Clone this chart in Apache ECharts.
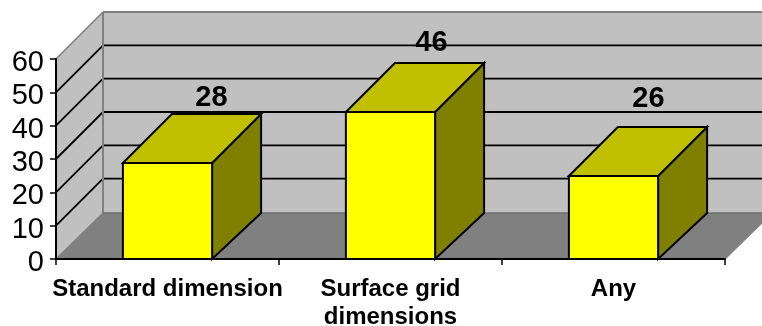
<!DOCTYPE html>
<html>
<head>
<meta charset="utf-8">
<style>html,body{margin:0;padding:0;background:#fff}#c{width:762px;height:326px}</style>
<script src="https://cdn.jsdelivr.net/npm/echarts@6/dist/echarts.min.js"></script>
</head>
<body>
<div id="c"></div>
<script>
// Data
var categories = ['Standard dimension', 'Surface grid\ndimensions', 'Any'];
var printedValues = [28, 46, 26];          // the numbers printed above the bars
var barHeights = [28.8, 44.1, 24.9];       // heights the bars actually reach on the axis
var yTicks = [0, 10, 20, 30, 40, 50, 60];

// 3D look (styling only)
var DEPTH_X = 47, DEPTH_Y = 47, FLOOR_DY = 46, BAR_DX = 49, BAR_TOP_DY = 49, BAR_BASE_DY = 46;
var BAR_RATIO = 0.4;
var LABEL_NUDGE = [[44, -65], [41, -69], [35, -77]];
var LINE = '#000', WALL = '#c0c0c0', FLOOR = '#808080', EDGE = '#808080';

function poly(points, fill, stroke, lw) {
  return {type: 'polygon', shape: {points: points},
    style: {fill: fill, stroke: stroke || null, lineWidth: lw || 0, lineJoin: 'miter'}};
}
function seg(a, b, stroke, lw) {
  return {type: 'line', shape: {x1: a[0], y1: a[1], x2: b[0], y2: b[1]},
    style: {stroke: stroke, lineWidth: lw}};
}

function renderWalls(params, api) {
  var band = api.size([1, 0])[0];
  var o = api.coord([0, 0]);
  var x0 = o[0] - band / 2, y0 = o[1];
  var x1 = api.coord([categories.length - 1, 0])[0] + band / 2;
  var yTop = api.coord([0, 60])[1];
  var kids = [];
  // back wall
  kids.push(poly([[x0 + DEPTH_X, yTop - DEPTH_Y], [x1 + DEPTH_X, yTop - DEPTH_Y],
                  [x1 + DEPTH_X, y0 - FLOOR_DY], [x0 + DEPTH_X, y0 - FLOOR_DY]], WALL));
  // left wall
  kids.push(poly([[x0, y0], [x0, yTop], [x0 + DEPTH_X, yTop - DEPTH_Y], [x0 + DEPTH_X, y0 - FLOOR_DY]], WALL));
  // floor
  kids.push(poly([[x0, y0], [x0 + DEPTH_X, y0 - FLOOR_DY], [x1 + DEPTH_X, y0 - FLOOR_DY], [x1, y0]], FLOOR));
  // gridlines
  yTicks.forEach(function (t) {
    if (t === 0 || t === 60) return;
    var y = api.coord([0, t])[1];
    kids.push(seg([x0, y], [x0 + DEPTH_X, y - DEPTH_Y], LINE, 1.8));
    kids.push(seg([x0 + DEPTH_X, y - DEPTH_Y], [x1 + DEPTH_X, y - DEPTH_Y], LINE, 1.8));
  });
  // wall edges
  kids.push(seg([x0, yTop], [x0 + DEPTH_X, yTop - DEPTH_Y], EDGE, 1.6));
  kids.push(seg([x0 + DEPTH_X, yTop - DEPTH_Y], [x1 + DEPTH_X, yTop - DEPTH_Y], EDGE, 2));
  kids.push(seg([x0 + DEPTH_X, yTop - DEPTH_Y], [x0 + DEPTH_X, y0 - FLOOR_DY], EDGE, 2));
  kids.push(seg([x0, y0], [x0 + DEPTH_X, y0 - FLOOR_DY], EDGE, 1.2));
  kids.push(seg([x0 + DEPTH_X, y0 - FLOOR_DY], [x1 + DEPTH_X, y0 - FLOOR_DY], '#6e6e6e', 1.6));
  kids.push(seg([x1, y0], [x1 + DEPTH_X, y0 - FLOOR_DY], EDGE, 1.2));
  return {type: 'group', children: kids};
}

function renderBar(params, api) {
  var i = api.value(0), v = api.value(1);
  var band = api.size([1, 0])[0];
  var w = band * BAR_RATIO;
  var top = api.coord([i, v]), base = api.coord([i, 0]);
  var l = top[0] - w / 2, r = top[0] + w / 2, yt = top[1], yb = base[1];
  var S = 2;
  return {type: 'group', children: [
    poly([[r, yt], [r + BAR_DX, yt - BAR_TOP_DY], [r + BAR_DX, yb - BAR_BASE_DY], [r, yb]], '#808000', LINE, S),
    poly([[l, yt], [l + BAR_DX, yt - BAR_TOP_DY], [r + BAR_DX, yt - BAR_TOP_DY], [r, yt]], '#c0c000', LINE, S),
    poly([[l, yt], [r, yt], [r, yb], [l, yb]], '#ffff00', LINE, S),
    {type: 'text', style: {
      text: String(printedValues[i]),
      x: top[0] + LABEL_NUDGE[i][0], y: yt + LABEL_NUDGE[i][1],
      textAlign: 'center', textVerticalAlign: 'middle',
      font: 'bold 29px "Liberation Sans", Arial, sans-serif', fill: '#000'
    }}
  ]};
}

var chart = echarts.init(document.getElementById('c'));
chart.setOption({
  animation: false,
  backgroundColor: '#fff',
  grid: {left: 56, right: 37, top: 59, bottom: 67, outerBoundsMode: 'none'},
  xAxis: {
    type: 'category', data: categories, z: 5,
    axisLine: {show: true, lineStyle: {color: '#000', width: 2}},
    axisTick: {show: true, length: 6, lineStyle: {color: '#000', width: 1.5}},
    axisLabel: {interval: 0, color: '#000', margin: 16, lineHeight: 28,
      fontFamily: '"Liberation Sans", Arial, sans-serif', fontWeight: 'bold', fontSize: 24}
  },
  yAxis: {
    type: 'value', min: 0, max: 60, interval: 10, z: 5,
    axisLine: {show: true, lineStyle: {color: '#000', width: 2}},
    axisTick: {show: true, length: 6, lineStyle: {color: '#000', width: 1.5}},
    splitLine: {show: false},
    axisLabel: {color: '#000', margin: 12, verticalAlign: 'top', lineHeight: 8,
      fontFamily: '"Liberation Sans", Arial, sans-serif', fontSize: 29}
  },
  series: [
    {type: 'custom', z: 1, silent: true, clip: false, renderItem: renderWalls, data: [[0, 0]]},
    {type: 'custom', z: 6, silent: true, clip: false, renderItem: renderBar,
     encode: {x: 0, y: 1},
     data: barHeights.map(function (h, i) { return [i, h]; })}
  ]
});
</script>
</body>
</html>
